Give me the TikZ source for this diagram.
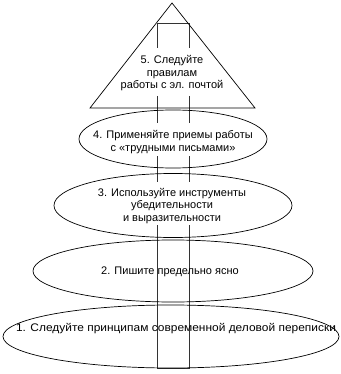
\documentclass[tikz,border=0pt]{standalone}
\usepackage{fontspec}
\setmainfont{Liberation Sans}
\newfontfamily\widefont{Liberation Sans}[FakeStretch=1.085]
\usetikzlibrary{shapes.geometric}
\begin{document}
\begin{tikzpicture}[x=1pt,y=-1pt,
  shape line/.style={draw=black,line width=0.7pt},
  stem/.style={draw=black!80,line width=0.7pt},
  lbl/.style={font=\fontsize{11}{12.5}\selectfont,align=center,inner sep=0pt}]
\useasboundingbox (0,0) rectangle (340,374);
% stem
\draw[stem] (157,48) -- (157,23) -- (189,23) -- (189,48);
\draw[stem] (157,96) -- (157,123) (189,96) -- (189,123);
\draw[stem] (157,156) -- (157,182) (189,156) -- (189,182);
\draw[stem] (157,225) -- (157,368) -- (189,368) -- (189,225);
% shapes
\coordinate (apex) at (172,3);
\coordinate (baseL) at (90,108);
\coordinate (baseR) at (255,108);
\draw[shape line] (apex) -- (baseL) -- (baseR) -- cycle;
\draw[shape line] (173,139) ellipse [x radius=94, y radius=29];
\draw[shape line] (173,205.5) ellipse [x radius=119, y radius=32];
\draw[shape line] (173,271) ellipse [x radius=140, y radius=31];
\draw[shape line] (171,336.5) ellipse [x radius=168, y radius=31.5];
% labels
\node[lbl] (t5) at (172,73.5) {5. Следуйте\\правилам\\работы с эл. почтой};
\node[lbl] (t4) at (173,142) {4. Применяйте приемы работы\\с «трудными письмами»};
\node[lbl] (t3) at (172,206) {3. Используйте инструменты\\убедительности\\и выразительности};
\node[lbl] (t2) at (170,272) {2. Пишите предельно ясно};
\node[lbl,font=\widefont\fontsize{11}{12.5}\selectfont] (t1) at (176,329) {1. Следуйте принципам современной деловой переписки};
\end{tikzpicture}
\end{document}
